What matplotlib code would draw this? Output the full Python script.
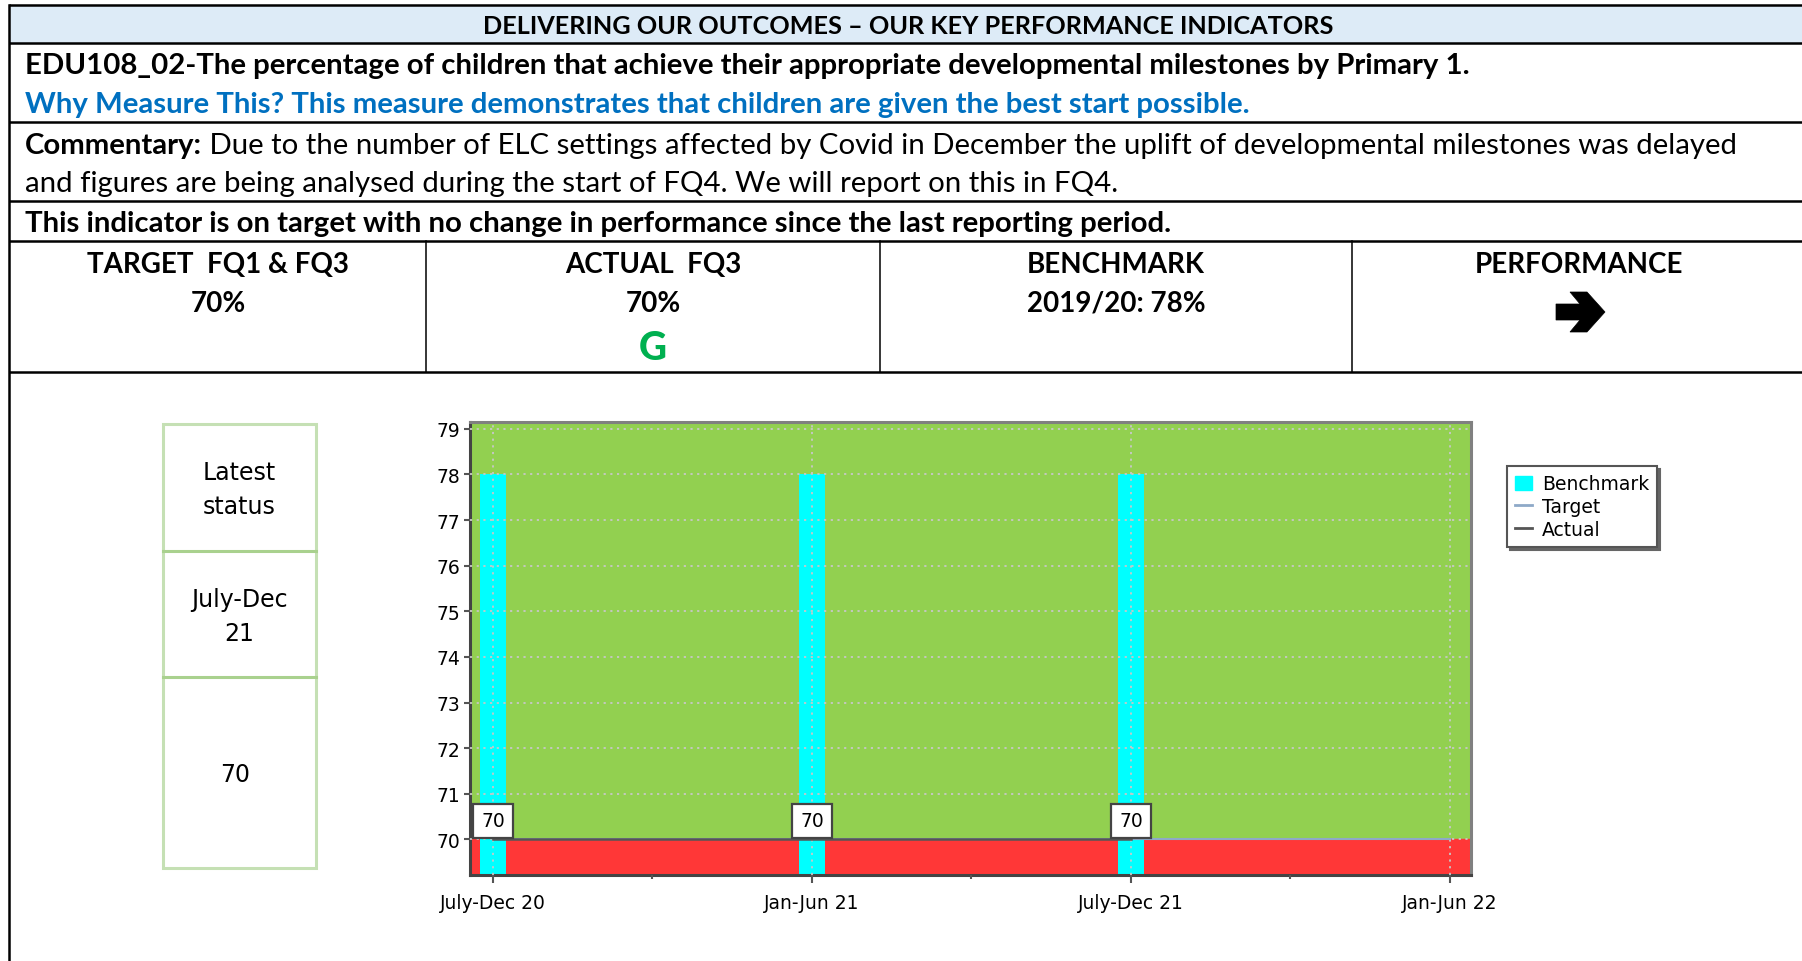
import numpy as np
import matplotlib
matplotlib.use("Agg")
import matplotlib.pyplot as plt
from matplotlib.lines import Line2D
from matplotlib.patches import Patch, Rectangle, Polygon

#%% data
periods = ["July-Dec 20", "Jan-Jun 21", "July-Dec 21", "Jan-Jun 22"]
benchmark = [78, 78, 78]
target = [70, 70, 70, 70]
actual = [70, 70, 70]
latest_period = "July-Dec\n21"
latest_value = "70"

title = "DELIVERING OUR OUTCOMES \u2013 OUR KEY PERFORMANCE INDICATORS"
kpi = "EDU108_02-The percentage of children that achieve their appropriate developmental milestones by Primary 1."
why = "Why Measure This? This measure demonstrates that children are given the best start possible."
comm1 = "Due to the number of ELC settings affected by Covid in December the uplift of developmental milestones was delayed"
comm2 = "and figures are being analysed during the start of FQ4. We will report on this in FQ4."
status_line = "This indicator is on target with no change in performance since the last reporting period."
cell_heads = ["TARGET  FQ1 & FQ3", "ACTUAL  FQ3", "BENCHMARK", "PERFORMANCE"]
cell_vals = ["70%", "70%", "2019/20: 78%", ""]

#%% figure
W, H = 1802, 962
fig = plt.figure(figsize=(W / 100, H / 100), dpi=100)
fig.patch.set_facecolor("white")

bg = fig.add_axes([0, 0, 1, 1])
bg.set_xlim(0, W)
bg.set_ylim(H, 0)
bg.axis("off")

TF = ["Lato", "DejaVu Sans"]
fs = 21.2
fc = 20

# header fill
bg.add_patch(Rectangle((9, 6), W, 38, fc="#DDEBF7", ec="none"))
for y in [6, 44, 123, 202, 242, 373]:
    bg.plot([9, W], [y, y], color="black", lw=1.8, solid_capstyle="butt")
bg.plot([9, 9], [6, H], color="black", lw=1.8)
for x in [426, 880, 1352]:
    bg.plot([x, x], [242, 373], color="black", lw=1.1)

bg.text(908, 26, title, family=TF, weight="bold", fontsize=18.2, ha="center", va="center")
bg.text(25, 66, kpi, family=TF, weight="bold", fontsize=fs, ha="left", va="center")
bg.text(25, 105, why, family=TF, weight="bold", fontsize=fs, ha="left", va="center", color="#0070C0")
t = bg.text(25, 146, "Commentary:", family=TF, weight="bold", fontsize=fs, ha="left", va="center")
bg.annotate(" " + comm1, xycoords=t, xy=(1, 0.5), va="center", ha="left",
            family=TF, fontsize=fs)
bg.text(25, 184, comm2, family=TF, fontsize=fs, ha="left", va="center")
bg.text(25, 224, status_line, family=TF, weight="bold", fontsize=fs, ha="left", va="center")

centers = [218, 653, 1116, 1579]
for cx, hd, vl in zip(centers, cell_heads, cell_vals):
    bg.text(cx, 265, hd, family=TF, weight="bold", fontsize=fc, ha="center", va="center")
    if vl:
        bg.text(cx, 304, vl, family=TF, weight="bold", fontsize=fc, ha="center", va="center")
bg.text(653, 349, "G", family=TF, weight="black", fontsize=28, ha="center", va="center", color="#00B050")

# performance arrow (heavy chevron arrow)
arrow = [(1556, 305), (1580, 305), (1570, 293), (1587, 293), (1605, 313),
         (1587, 333), (1570, 333), (1580, 321), (1556, 321)]
bg.add_patch(Polygon(arrow, closed=True, fc="black", ec="black", lw=0.5))

# latest status box
bg.add_patch(Rectangle((163, 425), 153, 444, fc="white", ec="#C5E0B4", lw=2.2))
for y in [552, 678]:
    bg.plot([163, 316], [y, y], color="#A9D18E", lw=2.2)
SF = ["DejaVu Sans"]
bg.text(239, 490, "Latest\nstatus", family=SF, fontsize=17, ha="center", va="center", linespacing=1.55)
bg.text(239, 617, latest_period, family=SF, fontsize=17, ha="center", va="center", linespacing=1.55)
bg.text(235, 775, latest_value, family=SF, fontsize=17, ha="center", va="center")

#%% chart
ax = fig.add_axes([470 / W, 1 - 876 / H, (1471 - 470) / W, (876 - 423) / H])
ymin, ymax = 69.22, 79.15
ax.set_xlim(-0.072, 3.066)
ax.set_ylim(ymin, ymax)

ax.axhspan(70, ymax, color="#92D050", zorder=0)
ax.axhspan(ymin, 70, color="#FF3737", zorder=0)

xb = np.arange(len(benchmark))
ax.bar(xb, np.array(benchmark) - ymin, bottom=ymin, width=0.079, color="#00FFFF", zorder=2)

xt = np.arange(len(target))
ax.plot(xt, target, color="#8EA9C8", lw=1.5, zorder=3)
xa = np.arange(len(actual))
ax.plot(xa, actual, color="#555555", lw=1.8, zorder=3)

for x, v in zip(xa, actual):
    ax.annotate(str(v), (x, v), xytext=(0, 6.5), textcoords="offset points",
                ha="center", va="bottom", fontsize=13.5, family=SF, zorder=5,
                bbox=dict(boxstyle="square,pad=0.42", fc="white", ec="#444444", lw=1.6))

ax.set_yticks(range(70, 80))
ax.set_xticks(range(len(periods)))
ax.set_xticklabels(periods)
ax.set_xticks([0.5, 1.5, 2.5], minor=True)
ax.grid(True, which="major", color="#C8C8C8", ls=(0, (1.2, 2.5)), lw=1.3, zorder=1)
ax.set_axisbelow(False)
for gl in ax.get_xgridlines() + ax.get_ygridlines():
    gl.set_zorder(1)

ax.tick_params(axis="both", which="major", direction="out", length=4, width=1.5,
               color="#555555", labelsize=13.5, pad=3)
ax.tick_params(axis="x", which="major", length=6, pad=7)
ax.tick_params(axis="x", which="minor", direction="out", length=3, width=1.5, color="#555555")
for lab in ax.get_xticklabels() + ax.get_yticklabels():
    lab.set_family(SF)
for s in ["left", "bottom"]:
    ax.spines[s].set_color("#444444")
    ax.spines[s].set_linewidth(2.2)
for s in ["top", "right"]:
    ax.spines[s].set_color("#808080")
    ax.spines[s].set_linewidth(2.2)

handles = [Patch(color="#00FFFF"),
           Line2D([], [], color="#8EA9C8", lw=2),
           Line2D([], [], color="#555555", lw=2)]
leg = fig.legend(handles, ["Benchmark", "Target", "Actual"], loc="upper left",
                 bbox_to_anchor=(1507 / W, 1 - 467 / H), frameon=True, fancybox=False,
                 shadow={"color": "#666666", "alpha": 1}, edgecolor="#555555",
                 prop={"family": SF, "size": 13.5}, handlelength=0.9, handleheight=0.8,
                 handletextpad=0.5, labelspacing=0.2, borderpad=0.45, borderaxespad=0)
leg.get_frame().set_linewidth(1.5)

fig.savefig("out.png", dpi=100)
